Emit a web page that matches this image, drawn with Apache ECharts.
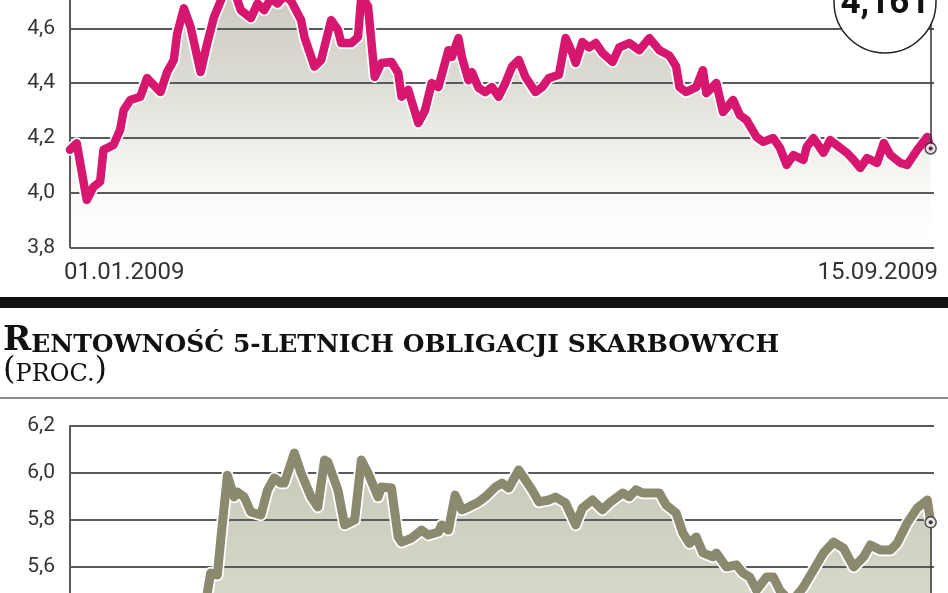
<!DOCTYPE html>
<html><head><meta charset="utf-8">
<script src="https://cdn.jsdelivr.net/npm/echarts@6/dist/echarts.min.js"></script>
<style>html,body{margin:0;padding:0;background:#fff;overflow:hidden}#c{width:948px;height:593px}</style>
</head><body><div id="c"></div><script>
// ---- data (days since 01.01.2009) ----
const topDays = [0,2,5,7,9,10,13,15,16,18,21,23,25,27,29,31,32,34,36,39,41,43,45,47,49,51,54,56,58,60,62,64,66,69,70,73,75,78,80,81,84,86,87,89,91,93,96,98,99,101,104,106,108,110,113,114,116,117,119,120,122,124,126,128,130,132,134,136,139,141,143,146,148,150,151,153,155,157,159,162,164,167,170,173,176,179,181,182,184,187,189,190,193,195,198,200,202,205,207,210,212,214,216,219,220,222,225,227,230,232,234,236,238,241,243,245,248,250,253,256,257];
const topValues = [4.156,4.18,3.973,4.02,4.04,4.156,4.174,4.23,4.30,4.338,4.35,4.418,4.393,4.367,4.44,4.484,4.58,4.673,4.605,4.44,4.546,4.641,4.70,4.76,4.74,4.666,4.637,4.69,4.666,4.71,4.69,4.72,4.70,4.63,4.568,4.46,4.484,4.63,4.594,4.546,4.546,4.568,4.72,4.68,4.422,4.473,4.477,4.437,4.35,4.375,4.254,4.30,4.40,4.385,4.52,4.495,4.564,4.495,4.41,4.44,4.382,4.367,4.385,4.35,4.40,4.46,4.484,4.422,4.367,4.385,4.418,4.43,4.564,4.51,4.473,4.55,4.53,4.546,4.51,4.477,4.53,4.546,4.52,4.564,4.52,4.50,4.46,4.385,4.367,4.385,4.447,4.363,4.40,4.294,4.338,4.283,4.265,4.203,4.185,4.199,4.163,4.101,4.137,4.119,4.167,4.199,4.145,4.192,4.163,4.145,4.119,4.09,4.126,4.108,4.181,4.137,4.108,4.101,4.156,4.203,4.161];
const bottomDays = [40,41,42,44,45,47,49,50,52,54,57,59,61,63,64,67,69,72,74,76,77,80,82,85,87,89,92,93,96,98,99,102,105,107,110,111,113,115,117,119,122,124,127,129,131,134,136,138,140,143,145,148,151,153,156,159,161,165,167,169,171,174,176,178,181,183,185,187,189,192,193,196,199,201,203,205,208,210,212,214,216,219,222,225,228,231,234,237,239,242,245,247,250,253,256,257];
const bottomValues = [5.42,5.49,5.574,5.566,5.715,5.99,5.898,5.919,5.898,5.834,5.821,5.928,5.979,5.957,5.957,6.085,6.0,5.898,5.855,6.055,6.047,5.928,5.779,5.80,6.055,6.0,5.898,5.94,5.936,5.728,5.706,5.723,5.757,5.736,5.749,5.779,5.757,5.906,5.843,5.855,5.877,5.898,5.94,5.957,5.936,6.013,5.97,5.928,5.877,5.885,5.898,5.872,5.779,5.851,5.885,5.843,5.872,5.915,5.898,5.928,5.915,5.915,5.915,5.864,5.83,5.745,5.70,5.728,5.66,5.643,5.66,5.60,5.609,5.574,5.557,5.502,5.557,5.557,5.50,5.47,5.46,5.515,5.587,5.66,5.706,5.68,5.60,5.643,5.694,5.672,5.672,5.702,5.787,5.851,5.885,5.79];
const topTicks = [3.8,4.0,4.2,4.4,4.6,4.8];
const bottomTicks = [5.0,5.2,5.4,5.6,5.8,6.0,6.2];
const dateLabels = ['01.01.2009','15.09.2009'];
const dayRange = [0,258];
const titleCap = 'R';
const titleRest = 'ENTOWNOŚĆ 5-LETNICH OBLIGACJI SKARBOWYCH';
const subtitle = 'PROC.';

// ---- build ----
const PINK = '#d7176f', OLIVE = '#8b8a6e', GRID = '#5a5a5a', TXT = '#333';
const topData = topDays.map((d,i)=>[d, topValues[i]]);
const bottomData = bottomDays.map((d,i)=>[d, bottomValues[i]]);
const topLast = topData[topData.length-1];
const botLast = bottomData[bottomData.length-1];
const fmt = v => v.toFixed(1).replace('.', ',');
const lastLabel = topLast[1].toFixed(3).replace('.', ',');

function yAxis(ticks, gi){
  return {type:'value', gridIndex:gi, min:ticks[0], max:ticks[ticks.length-1], interval:0.2,
    axisLine:{show:true, lineStyle:{color:GRID, width:2}}, axisTick:{show:false},
    axisLabel:{formatter:fmt, margin:15, color:TXT, fontFamily:'Roboto, "Liberation Sans", sans-serif', fontSize:21},
    splitLine:{show:true, lineStyle:{color:GRID, width:2}}};
}
function xAxis(gi){
  return {type:'value', gridIndex:gi, min:dayRange[0], max:dayRange[1], show:true,
    axisLine:{show:false}, axisTick:{show:false}, axisLabel:{show:false}, splitLine:{show:false}};
}
function seriesSet(data, idx, color, lineW, area, last, lineEnd){
  return [
    {type:'line', xAxisIndex:idx, yAxisIndex:idx, data, symbol:'none', silent:true, z:-1,
      lineStyle:{width:0}, areaStyle:area},
    {type:'line', xAxisIndex:idx, yAxisIndex:idx, data, symbol:'none', silent:true, z:3,
      lineStyle:{color:'#ffffff', width:lineW+3.5, join:'round', cap:'round'}},
    {type:'line', xAxisIndex:idx, yAxisIndex:idx, data, symbol:'none', silent:true, z:4,
      lineStyle:{color, width:lineW, join:'round', cap:'round'}},
    {type:'scatter', xAxisIndex:idx, yAxisIndex:idx, data:[last], symbolSize:11, z:6, silent:true,
      itemStyle:{color:'#fff', borderColor:'#222', borderWidth:1.5},
      markLine:{silent:true, symbol:['none','none'], label:{show:false}, z:5,
        lineStyle:{color:'#333', width:1.5, type:'solid'},
        data:[[{coord:[last[0], last[1]]},{coord:[last[0], lineEnd]}]]}},
    {type:'scatter', xAxisIndex:idx, yAxisIndex:idx, data:[last], symbolSize:4, z:7, silent:true,
      itemStyle:{color:'#111'}}
  ];
}
const topArea = {color:{type:'linear', x:0, y:0, x2:0, y2:1, colorStops:[
  {offset:0, color:'#cac8bc'},{offset:0.35, color:'#dcdbd3'},{offset:0.6, color:'#eeeee9'},{offset:0.82, color:'#fbfbf9'},{offset:1, color:'#ffffff'}]}, opacity:1};
const botArea = {color:{type:'linear', x:0, y:0, x2:0, y2:1, colorStops:[
  {offset:0, color:'#c9c9b9'},{offset:0.6, color:'#d8d8cc'},{offset:1, color:'#e2e2d8'}]}, opacity:1};

const chart = echarts.init(document.getElementById('c'), null, {renderer:'canvas'});
chart.setOption({
  animation:false,
  backgroundColor:'#ffffff',
  grid:[{left:70, right:14, top:-26.5, height:273.8, containLabel:false, outerBoundsMode:'none'},
        {left:70, right:14, top:426, height:282, containLabel:false, outerBoundsMode:'none'}],
  xAxis:[xAxis(0), xAxis(1)],
  yAxis:[yAxis(topTicks,0), yAxis(bottomTicks,1)],
  series:[].concat(
    seriesSet(topData, 0, PINK, 8.5, topArea, topLast, 4.7),
    seriesSet(bottomData, 1, OLIVE, 9, botArea, botLast, bottomTicks[0])
  ),
  graphic:[
    {type:'circle', shape:{cx:885, cy:2, r:51}, style:{fill:'#fff', stroke:'#222', lineWidth:1.5}, z:100},
    {type:'text', x:885, y:22, z:101, style:{text:lastLabel, align:'center', verticalAlign:'bottom',
      fill:'#111', font:'bold 35px Roboto, "Liberation Sans", sans-serif'}},
    {type:'text', x:64, y:273, z:100, style:{text:dateLabels[0], align:'left', verticalAlign:'middle',
      fill:TXT, font:'24px Roboto, "Liberation Sans", sans-serif'}},
    {type:'text', x:938, y:273, z:100, style:{text:dateLabels[1], align:'right', verticalAlign:'middle',
      fill:TXT, font:'24px Roboto, "Liberation Sans", sans-serif'}},
    {type:'rect', shape:{x:0, y:297, width:948, height:11}, style:{fill:'#111'}, z:100},
    {type:'text', x:3, y:324, z:100, style:{
      text:'{a|'+titleCap+'}{b|'+titleRest+'}', verticalAlign:'top', align:'left',
      rich:{a:{font:'bold 34px "DejaVu Serif", serif', fill:'#111', verticalAlign:'bottom'},
            b:{font:'bold 25px "DejaVu Serif", serif', fill:'#111', verticalAlign:'bottom'}}}},
    {type:'text', x:3, y:355, z:100, style:{
      text:'{a|(}{b|'+subtitle+'}{a|)}', verticalAlign:'top', align:'left',
      rich:{a:{font:'32px "DejaVu Serif", serif', fill:'#111', verticalAlign:'bottom'},
            b:{font:'24px "DejaVu Serif", serif', fill:'#111', verticalAlign:'bottom'}}}},
    {type:'line', shape:{x1:0, y1:398, x2:948, y2:398}, style:{stroke:'#666', lineWidth:1.5}, z:100}
  ]
});
</script></body></html>
